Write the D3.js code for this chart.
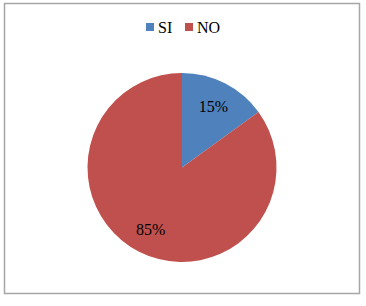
<!DOCTYPE html>
<html>
<head>
<meta charset="utf-8">
<script src="https://cdn.jsdelivr.net/npm/d3@7"></script>
<style>
	body { margin: 0; background: #fff; }
</style>
</head>
<body>
<svg id="chartSVG" width="366" height="306"></svg>
<script>
var categories = ["SI", "NO"];
var values = [15, 85];
var labels = ["15%", "85%"];
var colors = ["#4F81BD", "#C0504D"];

var serif = "'Liberation Serif', 'Times New Roman', serif";

drawChart();

function drawChart(){
	var svg = d3.select("#chartSVG");
	var cx = 182, cy = 167.5, radius = 94.5;

	// outer frame
	svg.append('rect')
		.attr('x', 4.5)
		.attr('y', 3.5)
		.attr('width', 355)
		.attr('height', 290)
		.attr('fill', "white")
		.attr('stroke', "#a6a6a6")
		.attr('stroke-width', 1.5);

	var data = categories.map(function(c, i){
		return {name: c, value: values[i], label: labels[i], color: colors[i]};
	});

	var pie = d3.pie()
		.sort(null)
		.value(function(d){ return d.value; });

	var arc = d3.arc().innerRadius(0).outerRadius(radius);
	var labelArc = d3.arc().innerRadius(radius * 0.73).outerRadius(radius * 0.73);

	var g = svg.append('g').attr('transform', "translate(" + cx + "," + cy + ")");

	var arcs = pie(data);

	g.selectAll('path.slice')
		.data(arcs)
		.enter().append('path')
			.attr('class', "slice")
			.attr('d', arc)
			.attr('fill', function(d){ return d.data.color; });

	g.selectAll('text.lbl')
		.data(arcs)
		.enter().append('text')
			.attr('class', "lbl")
			.attr('transform', function(d){
				var c = labelArc.centroid(d);
				return "translate(" + c[0] + "," + c[1] + ")";
			})
			.attr('text-anchor', "middle")
			.attr('dy', "0.35em")
			.attr('font-family', serif)
			.attr('font-size', 16)
			.attr('fill', "#000")
			.text(function(d){ return d.data.label; });

	// legend
	var legend = svg.append('g');
	var lx = [146, 185];
	for (var i = 0; i < data.length; i++) {
		legend.append('rect')
			.attr('x', lx[i])
			.attr('y', 23)
			.attr('width', 8)
			.attr('height', 8)
			.attr('fill', data[i].color);
		legend.append('text')
			.attr('x', lx[i] + 12)
			.attr('y', 32.5)
			.attr('font-family', serif)
			.attr('font-size', 16)
			.attr('fill', "#000")
			.text(data[i].name);
	}
}
</script>
</body>
</html>
